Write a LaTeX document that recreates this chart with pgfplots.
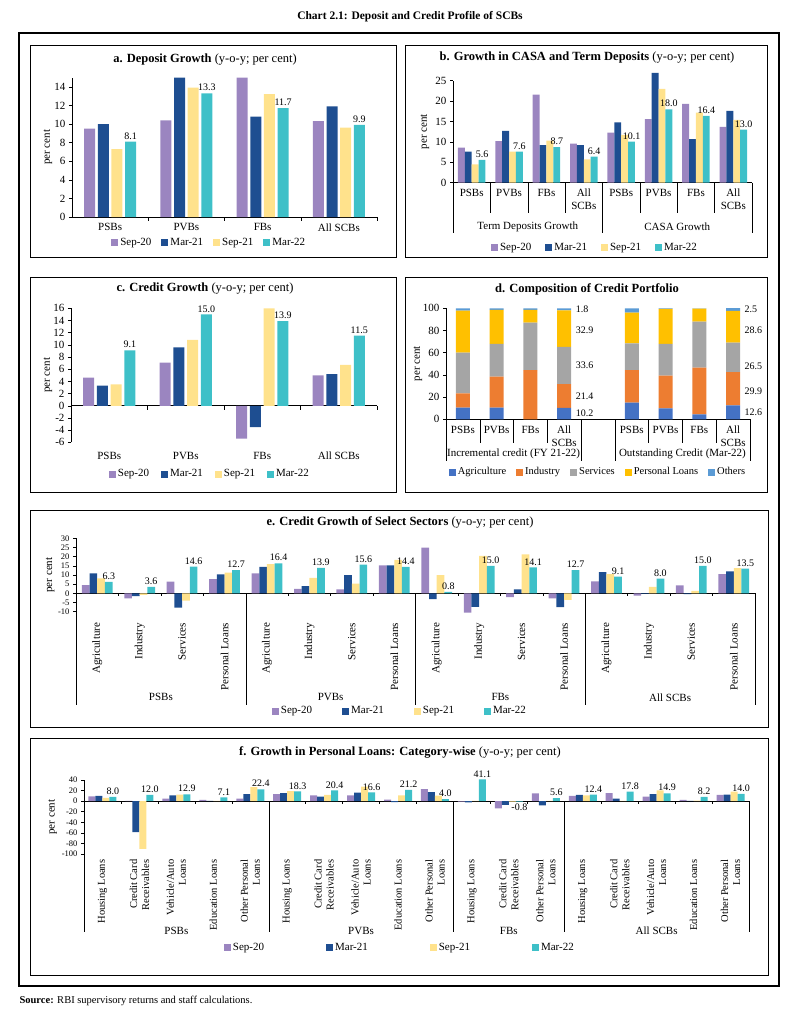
\documentclass[border=0pt]{standalone}
\usepackage{fontspec}
\setmainfont{Liberation Serif}
\usepackage{pgfplots}
\pgfplotsset{compat=1.18}

\definecolor{cSa}{RGB}{155,133,192}
\definecolor{cMa}{RGB}{30,78,145}
\definecolor{cSb}{RGB}{255,226,140}
\definecolor{cMb}{RGB}{62,192,200}
\definecolor{cAg}{RGB}{68,114,196}
\definecolor{cIn}{RGB}{237,125,49}
\definecolor{cSe}{RGB}{165,165,165}
\definecolor{cPL}{RGB}{255,192,0}
\definecolor{cOt}{RGB}{91,155,213}

\newcommand\fa{\fontsize{11}{13}\selectfont}
\newcommand\fb{\fontsize{10}{11}\selectfont}
\newcommand\fc{\fontsize{8.5}{9}\selectfont}
\newcommand\ft{\fontsize{12.5}{14}\selectfont}

\pgfplotsset{
  base/.style={
    scale only axis, anchor=south west,
    axis y line=left,
    axis line style={-, line width=0.6pt},
    every outer x axis line/.append style={-},
    every inner x axis line/.append style={-},
    every outer y axis line/.append style={-},
    xtick style={draw=none},
    ytick style={black, line width=0.5pt},
    major tick length=3pt,
    tick align=outside,
    ytick pos=left,
    hide obscured y ticks=false,
    enlargelimits=false,
    clip=false,
    ticklabel style={font=\fa},
    ylabel style={font=\fa},
    /pgf/number format/assume math mode=true,
    legend style={draw=none, fill=none, font=\fa, inner sep=0pt,
      /tikz/every even column/.append style={column sep=8pt}},
  },
  sq/.style={legend image code/.code={\fill[##1] (0pt,-3.5pt) rectangle (7pt,3.5pt);}},
  s1/.style={fill=cSa, draw=none},
  s2/.style={fill=cMa, draw=none},
  s3/.style={fill=cSb, draw=none},
  s4/.style={fill=cMb, draw=none,
    nodes near coords={\pgfmathprintnumber[fixed,fixed zerofill,precision=1]{\pgfplotspointmeta}},
    every node near coord/.append style={font=\fb, black, inner sep=2pt}},
}

\begin{document}
\begin{tikzpicture}
\path[use as bounding box] (0pt,0pt) rectangle (800pt,-1013pt);

% frames and titles
\draw[line width=1.1pt] (19pt,-33pt) rectangle (779pt,-986pt);
\draw[line width=0.9pt] (30pt,-45pt) rectangle (396pt,-257pt);
\draw[line width=0.9pt] (405pt,-45pt) rectangle (767pt,-257pt);
\draw[line width=0.9pt] (30pt,-277pt) rectangle (396pt,-492pt);
\draw[line width=0.9pt] (405pt,-277pt) rectangle (767pt,-492pt);
\draw[line width=0.9pt] (30pt,-510pt) rectangle (768pt,-727pt);
\draw[line width=0.9pt] (30pt,-738pt) rectangle (768pt,-975pt);

\node[font=\fontsize{11.5}{13}\selectfont\bfseries] at (410pt,-17pt) {Chart 2.1: Deposit and Credit Profile of SCBs};
\node[font=\ft] at (205pt,-60pt) {\textbf{a. Deposit Growth} (y-o-y; per cent)};
\node[font=\ft] at (587pt,-58pt) {\textbf{b. Growth in CASA and Term Deposits} (y-o-y; per cent)};
\node[font=\ft] at (205pt,-289pt) {\textbf{c. Credit Growth} (y-o-y; per cent)};
\node[font=\ft] at (587pt,-289pt) {\textbf{d. Composition of Credit Portfolio}};
\node[font=\ft] at (400pt,-522pt) {\textbf{e. Credit Growth of Select Sectors} (y-o-y; per cent)};
\node[font=\ft] at (400pt,-752pt) {\textbf{f. Growth in Personal Loans: Category-wise} (y-o-y; per cent)};
\node[font=\fontsize{10.5}{12}\selectfont, anchor=west] at (16pt,-1001pt) {\textbf{Source:} RBI supervisory returns and staff calculations.};

% a. Deposit growth
\begin{axis}[axis x line=bottom, base, at={(72pt,-217pt)},
  width=305pt, height=139.5pt,
  xmin=-0.5, xmax=3.5, ymin=0, ymax=15, ytick={0,2,...,14},
  xtick={0,1,2,3}, xticklabels={PSBs,PVBs,FBs,All SCBs},
  ybar=2.7pt, bar width=11pt, sq,
  ylabel={per cent}, ylabel style={at={(axis description cs:-0.079,0.5)}, anchor=center},
  legend columns=4, legend style={at={(0.45,-0.186)}, anchor=center},
]
\addplot[s1] coordinates {(0,9.5) (1,10.4) (2,15) (3,10.3)};
\addplot[s2] coordinates {(0,10.0) (1,15) (2,10.8) (3,11.9)};
\addplot[s3] coordinates {(0,7.3) (1,13.9) (2,13.2) (3,9.6)};
\addplot[s4] coordinates {(0,8.1) (1,13.3) (2,11.7) (3,9.9)};
\legend{Sep-20,Mar-21,Sep-21,Mar-22}
\pgfplotsinvokeforeach{0.5,1.5,2.5,3.5}{\draw (axis cs:#1,0) -- ([yshift=-4pt]axis cs:#1,0);}
\end{axis}

% b. CASA and term deposits
\begin{axis}[axis x line=bottom, base, at={(453pt,-182.7pt)},
  width=299pt, height=102pt,
  xmin=-0.5, xmax=7.5, ymin=0, ymax=25, ytick={0,5,...,25},
  xtick={0,...,7}, xticklabels={PSBs,PVBs,FBs,All\\SCBs,PSBs,PVBs,FBs,All\\SCBs},
  xticklabel style={align=center},
  ybar=0pt, bar width=6.9pt, sq,
  ylabel={per cent}, ylabel style={at={(axis description cs:-0.094,0.5)}, anchor=center},
  legend columns=4, legend style={at={(0.475,-0.64)}, anchor=center,
    /tikz/every even column/.append style={column sep=12pt}},
]
\addplot[s1] coordinates {(0,8.6) (1,10.2) (2,21.6) (3,9.6) (4,12.3) (5,15.6) (6,19.3) (7,13.7)};
\addplot[s2] coordinates {(0,7.6) (1,12.7) (2,9.2) (3,9.2) (4,14.8) (5,26.9) (6,10.7) (7,17.6)};
\addplot[s3] coordinates {(0,4.5) (1,7.6) (2,10.3) (3,5.7) (4,11.7) (5,23.0) (6,17.2) (7,15.4)};
\addplot[s4] coordinates {(0,5.6) (1,7.6) (2,8.7) (3,6.4) (4,10.1) (5,18.0) (6,16.4) (7,13.0)};
\legend{Sep-20,Mar-21,Sep-21,Mar-22}
\pgfplotsinvokeforeach{0.5,1.5,2.5,4.5,5.5,6.5}{\draw (axis cs:#1,0) -- ([yshift=-30pt]axis cs:#1,0);}
\pgfplotsinvokeforeach{-0.5,3.5,7.5}{\draw (axis cs:#1,0) -- ([yshift=-50pt]axis cs:#1,0);}
\node[font=\fa, yshift=-44pt] at (axis cs:1.5,0) {Term Deposits Growth};
\node[font=\fa, yshift=-44pt] at (axis cs:5.5,0) {CASA Growth};
\end{axis}

% c. Credit growth
\begin{axis}[axis x line=middle, base, at={(71pt,-442.3pt)},
  width=306pt, height=134pt,
  xmin=-0.5, xmax=3.5, ymin=-6, ymax=16, ytick={-6,-4,...,16},
  xtick={0,1,2,3}, xticklabels={PSBs,PVBs,FBs,All SCBs},
  xticklabel shift=40pt,
  ybar=2.7pt, bar width=11pt, sq,
  ylabel={per cent}, ylabel style={at={(axis description cs:-0.075,0.5)}, anchor=center},
  legend columns=4, legend style={at={(0.454,-0.237)}, anchor=center,
    /tikz/every even column/.append style={column sep=10pt}},
]
\addplot[s1] coordinates {(0,4.6) (1,7.1) (2,-5.4) (3,5.0)};
\addplot[s2] coordinates {(0,3.3) (1,9.6) (2,-3.5) (3,5.2)};
\addplot[s3] coordinates {(0,3.5) (1,10.8) (2,16.0) (3,6.7)};
\addplot[s4] coordinates {(0,9.1) (1,15.0) (2,13.9) (3,11.5)};
\legend{Sep-20,Mar-21,Sep-21,Mar-22}
\pgfplotsinvokeforeach{0.5,1.5,2.5,3.5}{\draw (axis cs:#1,0) -- ([yshift=-4pt]axis cs:#1,0);}
\end{axis}

% d. Composition of credit portfolio
\begin{axis}[axis x line=bottom, base, at={(446pt,-419.3pt)},
  width=304pt, height=111pt,
  ybar stacked, bar width=14pt, sq,
  xmin=-0.5, xmax=8.5, ymin=0, ymax=100, ytick={0,20,...,100},
  xtick={0,1,2,3,5,6,7,8}, xticklabels={PSBs,PVBs,FBs,All\\SCBs,PSBs,PVBs,FBs,All\\SCBs},
  xticklabel style={align=center},
  ylabel={per cent}, ylabel style={at={(axis description cs:-0.092,0.5)}, anchor=center},
  legend columns=5, legend style={at={(0.5,-0.475)}, anchor=center,
    font=\fontsize{10.5}{12}\selectfont},
]
\addplot[fill=cAg, draw=none] coordinates {(0,10.5) (1,10.5) (2,0) (3,10.2) (5,15) (6,9.9) (7,4.5) (8,12.6)};
\addplot[fill=cIn, draw=none] coordinates {(0,12.9) (1,27.9) (2,44.4) (3,21.4) (5,29.4) (6,29.4) (7,42) (8,29.9)};
\addplot[fill=cSe, draw=none] coordinates {(0,36.6) (1,29.5) (2,42.7) (3,33.6) (5,24.1) (6,28.6) (7,41.5) (8,26.5)};
\addplot[fill=cPL, draw=none] coordinates {(0,37.9) (1,30.6) (2,11.4) (3,32.9) (5,27.6) (6,31.5) (7,11.7) (8,28.6)};
\addplot[fill=cOt, draw=none] coordinates {(0,2.1) (1,1.5) (2,1.5) (3,1.8) (5,3.9) (6,0.6) (7,0.3) (8,2.5)};
\legend{Agriculture,Industry,Services,Personal Loans,Others}
\pgfplotsinvokeforeach{0.5,1.5,2.5,5.5,6.5,7.5}{\draw (axis cs:#1,0) -- ([yshift=-24pt]axis cs:#1,0);}
\pgfplotsinvokeforeach{-0.5,3.5,4.5,8.5}{\draw (axis cs:#1,0) -- ([yshift=-42pt]axis cs:#1,0);}
\node[font=\fa, yshift=-35pt] at (axis cs:1.5,0) {Incremental credit (FY 21-22)};
\node[font=\fa, yshift=-35pt] at (axis cs:6.5,0) {Outstanding Credit (Mar-22)};
\node[font=\fb, anchor=west, xshift=8pt] at (axis cs:3,5.4) {10.2};
\node[font=\fb, anchor=west, xshift=8pt] at (axis cs:3,21) {21.4};
\node[font=\fb, anchor=west, xshift=8pt] at (axis cs:3,48.3) {33.6};
\node[font=\fb, anchor=west, xshift=8pt] at (axis cs:3,80.5) {32.9};
\node[font=\fb, anchor=west, xshift=8pt] at (axis cs:3,99) {1.8};
\node[font=\fb, anchor=west, xshift=8pt] at (axis cs:8,6) {12.6};
\node[font=\fb, anchor=west, xshift=8pt] at (axis cs:8,25) {29.9};
\node[font=\fb, anchor=west, xshift=8pt] at (axis cs:8,47.5) {26.5};
\node[font=\fb, anchor=west, xshift=8pt] at (axis cs:8,80.5) {28.6};
\node[font=\fb, anchor=west, xshift=8pt] at (axis cs:8,99) {2.5};
\end{axis}

% e. Credit growth of select sectors
\begin{axis}[axis x line=middle, base, at={(76pt,-611.7pt)},
  width=679pt, height=73.4pt,
  xmin=-0.5, xmax=15.5, ymin=-10, ymax=30, ytick={-10,-5,...,30},
  yticklabel style={font=\fc},
  xtick={0,...,15},
  xticklabels={Agriculture,Industry,Services,Personal Loans,Agriculture,Industry,Services,Personal Loans,Agriculture,Industry,Services,Personal Loans,Agriculture,Industry,Services,Personal Loans},
  xticklabel style={rotate=90, anchor=east},
  xticklabel shift=23pt,
  ybar=0pt, bar width=7.7pt, sq,
  ylabel={per cent}, ylabel style={at={(axis description cs:-0.038,0.5)}, anchor=center},
  legend columns=4, legend style={at={(0.477,-1.353)}, anchor=center,
    /tikz/every even column/.append style={column sep=28pt}},
]
\addplot[s1] coordinates {(0,4.5) (1,-2.7) (2,6.4) (3,7.8) (4,10.9) (5,2.4) (6,2.2) (7,15.3) (8,24.9) (9,-10.5) (10,-2.0) (11,-2.7) (12,6.5) (13,-1.3) (14,4.4) (15,10.5)};
\addplot[s2] coordinates {(0,10.9) (1,-1.5) (2,-7.8) (3,10.4) (4,14.5) (5,4.0) (6,10.0) (7,15.3) (8,-3.1) (9,-7.3) (10,2.2) (11,-7.5) (12,11.6) (13,-0.3) (14,-0.4) (15,12.0)};
\addplot[s3] coordinates {(0,8.2) (1,-0.8) (2,-4.0) (3,11.3) (4,16.0) (5,8.5) (6,5.3) (7,18.2) (8,10.0) (9,20.4) (10,21.3) (11,-3.5) (12,10.5) (13,3.5) (14,1.3) (15,13.8)};
\addplot[s4] coordinates {(0,6.3) (1,3.6) (2,14.6) (3,12.7) (4,16.4) (5,13.9) (6,15.6) (7,14.4) (8,0.8) (9,15.0) (10,14.1) (11,12.7) (12,9.1) (13,8.0) (14,15.0) (15,13.5)};
\legend{Sep-20,Mar-21,Sep-21,Mar-22}
\pgfplotsinvokeforeach{0.5,1.5,2.5,4.5,5.5,6.5,8.5,9.5,10.5,12.5,13.5,14.5}{\draw (axis cs:#1,0) -- ([yshift=-3pt]axis cs:#1,0);}
\pgfplotsinvokeforeach{-0.5,3.5,7.5,11.5,15.5}{\draw (axis cs:#1,0) -- ([yshift=-112pt]axis cs:#1,0);}
\node[font=\fa, yshift=-104pt] at (axis cs:1.5,0) {PSBs};
\node[font=\fa, yshift=-104pt] at (axis cs:5.5,0) {PVBs};
\node[font=\fa, yshift=-104pt] at (axis cs:9.5,0) {FBs};
\node[font=\fa, yshift=-104pt] at (axis cs:13.5,0) {All SCBs};
\end{axis}

% f. Personal loans category-wise
\begin{axis}[axis x line=middle, base, at={(84pt,-854pt)},
  width=665pt, height=74pt,
  xmin=-0.5, xmax=17.5, ymin=-100, ymax=40, ytick={-100,-80,...,40},
  yticklabel style={font=\fc},
  xtick={0,...,17},
  xticklabels={Housing Loans,Credit Card\\Receivables,Vehicle/Auto\\Loans,Education Loans,Other Personal\\Loans,Housing Loans,Credit Card\\Receivables,Vehicle/Auto\\Loans,Education Loans,Other Personal\\Loans,Housing Loans,Credit Card\\Receivables,Other Personal\\Loans,Housing Loans,Credit Card\\Receivables,Vehicle/Auto\\Loans,Education Loans,Other Personal\\Loans},
  xticklabel style={rotate=90, anchor=east, align=right, font=\fontsize{10.5}{12}\selectfont},
  xticklabel shift=52pt,
  ybar=0pt, bar width=7pt, sq,
  ylabel={per cent}, ylabel style={at={(axis description cs:-0.047,0.5)}, anchor=center},
  legend columns=4, legend style={at={(0.475,-1.27)}, anchor=center,
    /tikz/every even column/.append style={column sep=60pt}},
]
\addplot[s1] coordinates {(0,9.2) (1,0.5) (2,5) (3,2.5) (4,5) (5,13.5) (6,11) (7,11) (8,3) (9,22.8) (10,-1) (11,-13.5) (12,14.8) (13,9.8) (14,15.4) (15,8.6) (16,2.5) (17,11.7)};
\addplot[s2] coordinates {(0,9.8) (1,-58.5) (2,11) (3,0.5) (4,13.5) (5,15.4) (6,8.6) (7,16) (8,-1.8) (9,17.2) (10,-2.5) (11,-6.8) (12,-8) (13,11.7) (14,4.9) (15,13.5) (16,0.5) (17,12.3)};
\addplot[s3] coordinates {(0,6) (1,-90.5) (2,12.3) (3,0.5) (4,26.5) (5,19.1) (6,11.7) (7,27.7) (8,11) (9,10.5) (10,0.5) (11,-1) (12,0.3) (13,11.1) (14,0.5) (15,20.3) (16,1) (17,17.8)};
\addplot[s4] coordinates {(0,8.0) (1,12.0) (2,12.9) (3,7.1) (4,22.4) (5,18.3) (6,20.4) (7,16.6) (8,21.2) (9,4.0) (10,41.1) (11,-0.8) (12,5.6) (13,12.4) (14,17.8) (15,14.9) (16,8.2) (17,14.0)};
\legend{Sep-20,Mar-21,Sep-21,Mar-22}
\pgfplotsinvokeforeach{0.5,1.5,2.5,3.5,5.5,6.5,7.5,8.5,10.5,11.5,13.5,14.5,15.5,16.5}{\draw (axis cs:#1,0) -- ([yshift=-3pt]axis cs:#1,0);}
\pgfplotsinvokeforeach{-0.5,4.5,9.5,12.5,17.5}{\draw (axis cs:#1,0) -- ([yshift=-131pt]axis cs:#1,0);}
\node[font=\fa, yshift=-130pt] at (axis cs:2,0) {PSBs};
\node[font=\fa, yshift=-130pt] at (axis cs:7,0) {PVBs};
\node[font=\fa, yshift=-130pt] at (axis cs:11,0) {FBs};
\node[font=\fa, yshift=-130pt] at (axis cs:15,0) {All SCBs};
\end{axis}
\end{tikzpicture}
\end{document}
